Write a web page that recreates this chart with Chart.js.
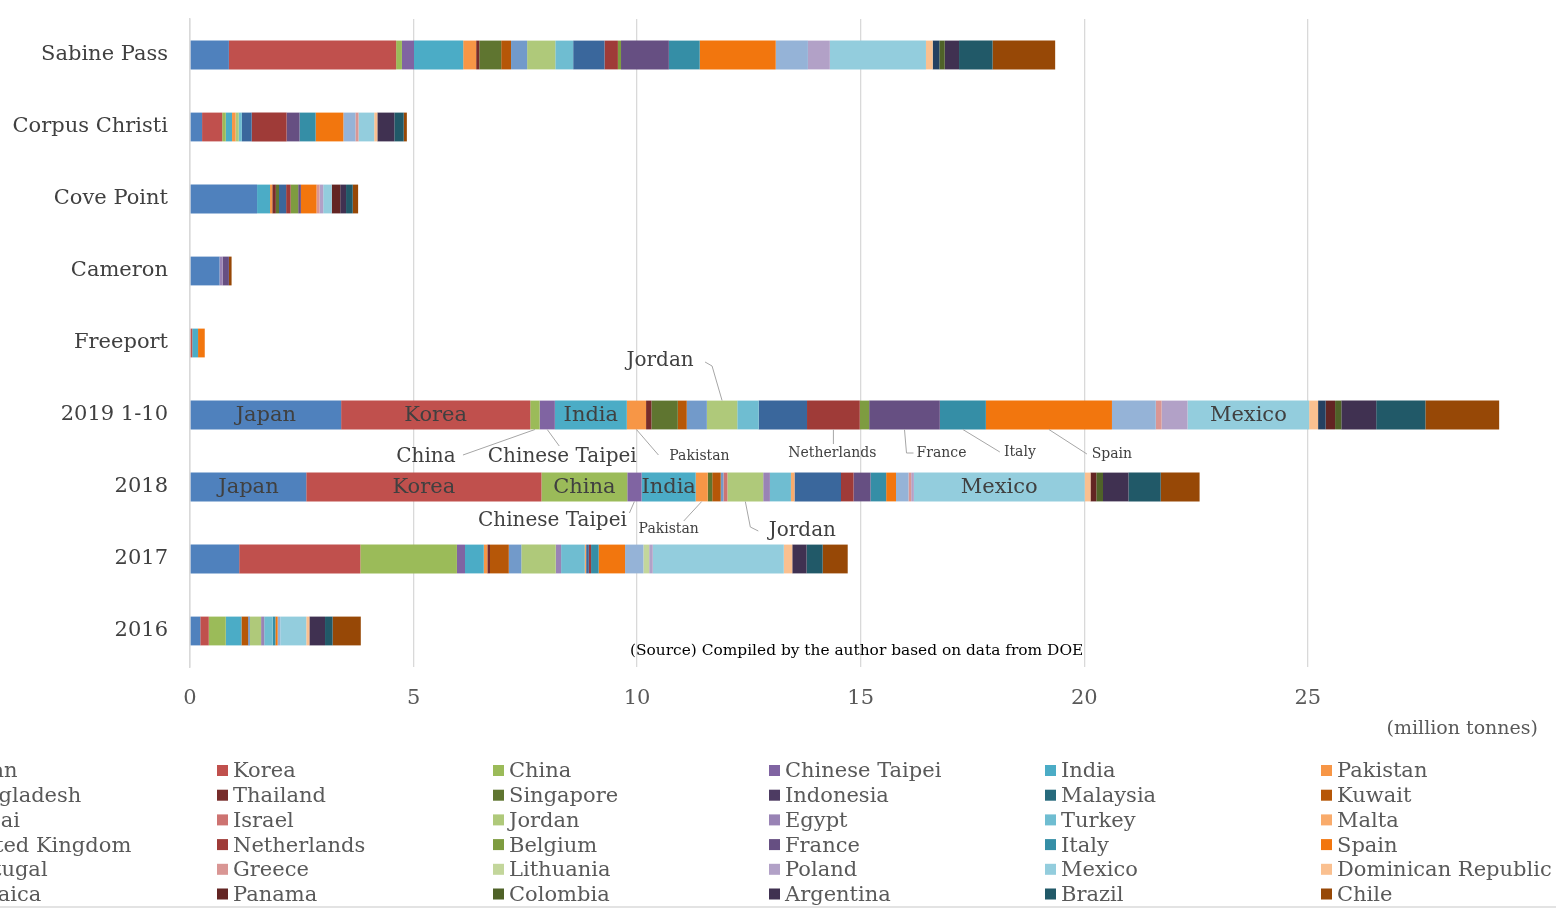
<!DOCTYPE html>
<html>
<head>
<meta charset="utf-8">
<script src="https://cdn.jsdelivr.net/npm/chart.js@4.4.1/dist/chart.umd.min.js"></script>
<style>
  html, body { margin: 0; padding: 0; background: #fff; overflow: hidden; }
  canvas { display: block; }
</style>
</head>
<body>
<canvas id="lng-chart" width="1556" height="908"></canvas>
<script>
const FONT = '"DejaVu Serif", serif';

const categories = ['Sabine Pass', 'Corpus Christi', 'Cove Point', 'Cameron', 'Freeport', '2019 1-10', '2018', '2017', '2016'];

const countries = [
  'Japan', 'Korea', 'China', 'Chinese Taipei', 'India', 'Pakistan',
  'Bangladesh', 'Thailand', 'Singapore', 'Indonesia', 'Malaysia', 'Kuwait',
  'Dubai', 'Israel', 'Jordan', 'Egypt', 'Turkey', 'Malta',
  'United Kingdom', 'Netherlands', 'Belgium', 'France', 'Italy', 'Spain',
  'Portugal', 'Greece', 'Lithuania', 'Poland', 'Mexico', 'Dominican Republic',
  'Jamaica', 'Panama', 'Colombia', 'Argentina', 'Brazil', 'Chile'
];

const colors = [
  '#4F81BD', '#C0504D', '#9BBB59', '#8064A2', '#4BACC6', '#F79646',
  '#2C4D75', '#772C2A', '#5F7530', '#4D3B62', '#276A7C', '#B65708',
  '#729ACA', '#CD7371', '#AFC97A', '#9983B5', '#6FBDD1', '#F9AB6B',
  '#3A679C', '#9F3B38', '#7E9C40', '#664F82', '#358EA6', '#F2760E',
  '#95B3D7', '#D99694', '#C3D69B', '#B2A1C7', '#93CDDD', '#FAC090',
  '#254061', '#632523', '#4F6228', '#403151', '#215968', '#974806'
];

// million tonnes, same order as countries
const sabinePass = [
  0.87, 3.74, 0.13, 0.27, 1.10, 0.29,
  0, 0.07, 0.49, 0, 0, 0.22,
  0.36, 0, 0.63, 0, 0.40, 0,
  0.70, 0.30, 0.07, 1.07, 0.69, 1.70,
  0.72, 0, 0, 0.49, 2.15, 0.15,
  0.15, 0, 0.12, 0.32, 0.75, 1.40
];
const corpusChristi = [
  0.27, 0.45, 0.08, 0, 0.14, 0.08,
  0, 0, 0, 0, 0, 0,
  0, 0, 0.07, 0, 0.07, 0,
  0.22, 0.78, 0, 0.29, 0.36, 0.62,
  0.27, 0.07, 0, 0, 0.35, 0.07,
  0, 0, 0, 0.38, 0.21, 0.07
];
const covePoint = [
  1.50, 0, 0, 0, 0.29, 0.05,
  0, 0.08, 0.07, 0, 0, 0,
  0, 0, 0, 0, 0, 0,
  0.16, 0.10, 0.17, 0.06, 0, 0.35,
  0, 0.07, 0, 0.08, 0.19, 0,
  0, 0.19, 0, 0.13, 0.15, 0.12
];
const cameron = [
  0.66, 0, 0, 0, 0, 0,
  0, 0, 0, 0, 0, 0,
  0, 0, 0, 0.07, 0, 0,
  0, 0, 0, 0.14, 0, 0,
  0, 0, 0, 0, 0, 0,
  0, 0, 0, 0, 0, 0.06
];
const freeport = [
  0, 0.05, 0, 0, 0.13, 0,
  0, 0, 0, 0, 0, 0,
  0, 0, 0, 0, 0, 0,
  0, 0, 0, 0, 0, 0.15,
  0, 0, 0, 0, 0, 0,
  0, 0, 0, 0, 0, 0
];
const year2019 = [
  3.38, 4.23, 0.21, 0.34, 1.61, 0.43,
  0, 0.12, 0.59, 0, 0, 0.20,
  0.45, 0, 0.68, 0, 0.48, 0,
  1.08, 1.18, 0.21, 1.58, 1.03, 2.82,
  0.98, 0.13, 0, 0.58, 2.72, 0.20,
  0.17, 0.21, 0.14, 0.78, 1.10, 1.65
];
const year2018 = [
  2.60, 5.26, 1.92, 0.32, 1.21, 0.27,
  0, 0, 0.10, 0, 0, 0.19,
  0.06, 0.09, 0.80, 0.15, 0.47, 0.08,
  1.04, 0.28, 0, 0.38, 0.35, 0.22,
  0.28, 0.06, 0, 0.06, 3.82, 0.13,
  0, 0.13, 0.15, 0.57, 0.72, 0.87
];
const year2017 = [
  1.10, 2.71, 2.16, 0.18, 0.42, 0.08,
  0, 0.06, 0, 0, 0, 0.42,
  0.28, 0, 0.77, 0.12, 0.53, 0.03,
  0.06, 0.05, 0, 0, 0.17, 0.59,
  0.41, 0, 0.13, 0.08, 2.93, 0.19,
  0, 0, 0, 0.32, 0.36, 0.56
];
const year2016 = [
  0.23, 0.19, 0.38, 0, 0.35, 0,
  0, 0, 0, 0, 0, 0.15,
  0.04, 0, 0.25, 0.07, 0.19, 0,
  0, 0, 0, 0, 0.06, 0.05,
  0.06, 0, 0, 0, 0.58, 0.07,
  0, 0, 0, 0.35, 0.17, 0.63
];

const xTicks = [0, 5, 10, 15, 20, 25];

// labels drawn inside the bar segments
const insideLabels = [
  ['2019 1-10', 'Japan'], ['2019 1-10', 'Korea'], ['2019 1-10', 'India'], ['2019 1-10', 'Mexico'],
  ['2018', 'Japan'], ['2018', 'Korea'], ['2018', 'China'], ['2018', 'India'], ['2018', 'Mexico']
];

// callouts: text offset and leader line, relative to the segment centre
const callouts = [
  { cat: '2019 1-10', name: 'China', size: 20, text: [-109, 42], line: [[0, 14.5], [-72, 40]] },
  { cat: '2019 1-10', name: 'Chinese Taipei', size: 20, text: [15, 42], line: [[0, 14.5], [12, 31]] },
  { cat: '2019 1-10', name: 'Pakistan', size: 14, text: [63, 41], line: [[0, 14.5], [22, 40]] },
  { cat: '2019 1-10', name: 'Jordan', size: 20, text: [-62, -54], line: [[0, -14.5], [-10, -49], [-17, -53]] },
  { cat: '2019 1-10', name: 'Netherlands', size: 14, text: [-1, 38], line: [[0, 14.5], [0, 29]] },
  { cat: '2019 1-10', name: 'France', size: 14, text: [37, 38], line: [[0, 14.5], [2, 38], [9, 38]] },
  { cat: '2019 1-10', name: 'Italy', size: 14, text: [57, 37], line: [[0, 14.5], [37, 37]] },
  { cat: '2019 1-10', name: 'Spain', size: 14, text: [63, 39], line: [[0, 14.5], [38, 39]] },
  { cat: '2018', name: 'Chinese Taipei', size: 20, text: [-82, 34], line: [[0, 14.5], [-5, 26]] },
  { cat: '2018', name: 'Pakistan', size: 14, text: [-33, 42], line: [[0, 14.5], [-18, 34]] },
  { cat: '2018', name: 'Jordan', size: 20, text: [57, 44], line: [[0, 14.5], [5, 40], [13, 44]] }
];

const sourceNote = '(Source) Compiled by the author based on data from DOE';
const unitLabel = '(million tonnes)';

const rows = [sabinePass, corpusChristi, covePoint, cameron, freeport, year2019, year2018, year2017, year2016];

const datasets = countries.map((name, i) => ({
  label: name,
  data: rows.map(r => r[i]),
  backgroundColor: colors[i],
  borderWidth: 0,
  categoryPercentage: 1,
  barPercentage: 0.4
}));

function segment(chart, cat, name) {
  const bar = chart.getDatasetMeta(countries.indexOf(name)).data[categories.indexOf(cat)];
  return { cx: (bar.x + bar.base) / 2, cy: bar.y };
}

const labelPlugin = {
  id: 'labels',
  afterDatasetsDraw(chart) {
    const ctx = chart.ctx;
    ctx.save();
    ctx.textAlign = 'center';
    ctx.textBaseline = 'middle';
    ctx.fillStyle = '#404040';
    ctx.font = '21px ' + FONT;
    insideLabels.forEach(([cat, name]) => {
      const s = segment(chart, cat, name);
      ctx.fillText(name, s.cx, s.cy + 1);
    });

    ctx.strokeStyle = '#a6a6a6';
    ctx.lineWidth = 1;
    callouts.forEach(c => {
      const s = segment(chart, c.cat, c.name);
      ctx.beginPath();
      c.line.forEach(([dx, dy], k) => {
        if (k === 0) ctx.moveTo(s.cx + dx, s.cy + dy);
        else ctx.lineTo(s.cx + dx, s.cy + dy);
      });
      ctx.stroke();
      ctx.font = c.size + 'px ' + FONT;
      ctx.fillText(c.name, s.cx + c.text[0], s.cy + c.text[1]);
    });
    ctx.restore();
  },
  afterDraw(chart) {
    const ctx = chart.ctx;
    const area = chart.chartArea;
    ctx.save();
    // source note
    ctx.font = '15.4px ' + FONT;
    ctx.fillStyle = '#000';
    ctx.textAlign = 'left';
    ctx.textBaseline = 'middle';
    ctx.fillText(sourceNote, 630, area.bottom - 16);

    // unit
    ctx.font = '19px ' + FONT;
    ctx.fillStyle = '#595959';
    ctx.textAlign = 'right';
    ctx.fillText(unitLabel, 1538, 729);

    // legend, 6 columns
    ctx.font = '21px ' + FONT;
    ctx.textAlign = 'left';
    countries.forEach((name, i) => {
      const col = i % 6, row = Math.floor(i / 6);
      const x = -59 + col * 276;
      const y = 771 + row * 24.7;
      ctx.fillStyle = colors[i];
      ctx.fillRect(x, y - 6, 11, 11);
      ctx.fillStyle = '#595959';
      ctx.fillText(name, x + 16, y + 1);
    });

    ctx.strokeStyle = '#e3e3e3';
    ctx.lineWidth = 2;
    ctx.beginPath();
    ctx.moveTo(0, 907);
    ctx.lineTo(1556, 907);
    ctx.stroke();
    ctx.restore();
  }
};

new Chart(document.getElementById('lng-chart'), {
  type: 'bar',
  data: { labels: categories, datasets: datasets },
  options: {
    responsive: false,
    animation: false,
    indexAxis: 'y',
    layout: { padding: { top: 19, right: 47, bottom: 191, left: 0 } },
    plugins: {
      legend: { display: false },
      tooltip: { enabled: false }
    },
    scales: {
      x: {
        stacked: true,
        min: 0,
        max: 29.5,
        afterBuildTicks: axis => { axis.ticks = xTicks.map(v => ({ value: v })); },
        afterFit: axis => { axis.height = 50; axis.paddingLeft = 0; axis.paddingRight = 0; },
        grid: { color: '#d9d9d9', lineWidth: 1.3, drawTicks: false },
        border: { display: false },
        ticks: { padding: 19, color: '#595959', font: { family: FONT, size: 21 } }
      },
      y: {
        stacked: true,
        afterFit: axis => { axis.width = 190; axis.paddingTop = 0; axis.paddingBottom = 0; },
        grid: { display: false, drawTicks: false },
        border: { display: true, color: '#d9d9d9', width: 1.5 },
        ticks: { padding: 22, color: '#404040', font: { family: FONT, size: 21 } }
      }
    }
  },
  plugins: [labelPlugin]
});
</script>
</body>
</html>
